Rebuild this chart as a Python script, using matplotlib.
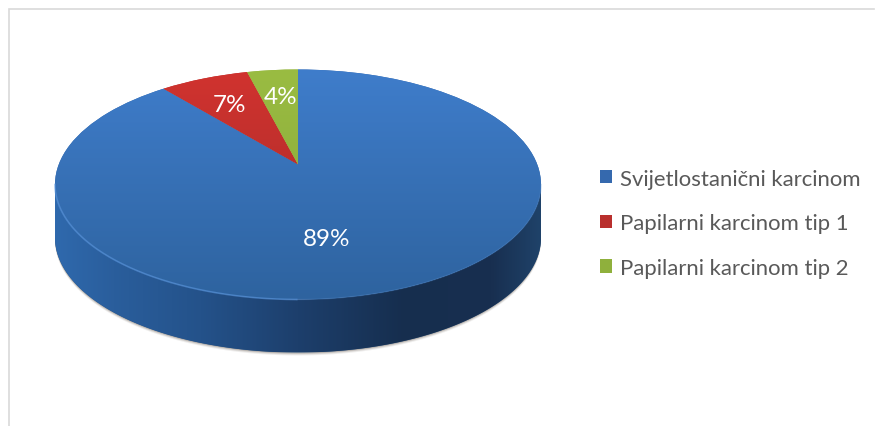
import numpy as np
import matplotlib
matplotlib.use("Agg")
import matplotlib.pyplot as plt
from matplotlib.transforms import Transform
from matplotlib.colors import LinearSegmentedColormap

categories = ["Svijetlostanični karcinom", "Papilarni karcinom tip 1", "Papilarni karcinom tip 2"]
values = [89, 7, 4]
pct_labels = ["89%", "7%", "4%"]

base_colors = ["#3569AE", "#B92F2D", "#8FB03C"]
top_gradients = [("#3F7DCB", "#2E639F"), ("#D1332F", "#A32A29"), ("#9ABC42", "#86A638")]
label_xy = [(327, 240), (229, 105), (281, 97)]

W, H = 875, 427
CX, CY, RX, RY = 298, 185.5, 243, 115   # outline of the top face, pixels
APEX_SHIFT = 20                         # perspective: pie centre sits above ellipse centre
DEPTH = 53
K = 2 * APEX_SHIFT / (2 * RY)
A = RX * np.sqrt(1 - K ** 2)


class Perspective(Transform):
    """Unit-circle pie -> tilted disc seen in perspective (pixel coordinates)."""
    input_dims = output_dims = 2
    has_inverse = False

    def transform_non_affine(self, xy):
        xy = np.asarray(xy, float)
        d = 1 + K * xy[:, 1]
        return np.column_stack([CX + A * xy[:, 0] / d,
                                CY - (RY * xy[:, 1] + APEX_SHIFT) / d])


fig = plt.figure(figsize=(W / 100, H / 100), dpi=100, facecolor="white")
ax = fig.add_axes([0, 0, 1, 1])

wedges, _ = ax.pie(values, startangle=90, counterclock=False, colors=base_colors,
                   radius=1, center=(0, 0))
ax.set_aspect("auto")
ax.set_xlim(0, W)
ax.set_ylim(H, 0)
ax.axis("off")

persp = Perspective()
for w in wedges:
    w.set_transform(persp + ax.transData)
    w.set_linewidth(0)
    w.set_zorder(5)
    w.set_clip_on(True)

# chart frame
frame_c = "#D9D9D9"
ax.plot([9, 9, 874], [H, 10, 10], color=frame_c, lw=1.2, zorder=1, solid_joinstyle="miter")

# side wall
t = np.radians(np.linspace(180, 360, 300))
ex = CX + RX * np.cos(t)
ey = CY - RY * np.sin(t)

# soft shadow under the wall
for off, alpha in [(3.0, .10), (2.0, .18), (1.0, .30)]:
    ax.fill(np.r_[ex, ex[::-1]], np.r_[ey, ey[::-1] + DEPTH + off],
            color="#6b6258", alpha=alpha, lw=0, zorder=2)

wall = ax.fill(np.r_[ex, ex[::-1]], np.r_[ey, ey[::-1] + DEPTH], color="#24507f", lw=0, zorder=3)[0]
wall_cmap = LinearSegmentedColormap.from_list("wall", [
    (0.00, "#2F69AD"), (0.12, "#2A5E9C"), (0.30, "#24528A"), (0.50, "#1D3F6C"),
    (0.72, "#162E4E"), (0.90, "#182F50"), (1.00, "#1F4269")])
grad = np.linspace(0, 1, 256).reshape(1, -1)
im = ax.imshow(grad, cmap=wall_cmap, extent=(CX - RX, CX + RX, CY + RY + DEPTH, CY),
               aspect="auto", zorder=4, interpolation="bilinear")
im.set_clip_path(wall)

# top-face gradients
for w, (c0, c1) in zip(wedges, top_gradients):
    cmap = LinearSegmentedColormap.from_list("f", [c0, c1])
    g = np.linspace(0, 1, 256).reshape(-1, 1)
    im2 = ax.imshow(g, cmap=cmap, extent=(CX - RX, CX + RX, CY + RY, CY - RY),
                    aspect="auto", zorder=6, interpolation="bilinear")
    im2.set_clip_path(w)

# bevel highlight on the front rim: bright at the left, fading toward the right
mid = len(ex) // 2
ax.plot(ex[:mid], ey[:mid], color="#5A96DE", lw=1.2, alpha=.6, zorder=7)
ax.plot(ex[mid - 1:], ey[mid - 1:], color="#4F86C6", lw=1.0, alpha=.3, zorder=7)

ax.set_xlim(0, W)
ax.set_ylim(H, 0)

for lab, (x, y) in zip(pct_labels, label_xy):
    ax.text(x, y, lab, color="white", fontsize=17.5, family="Lato",
            ha="center", va="center", zorder=10)

leg = ax.legend(wedges, categories, loc="upper left", bbox_to_anchor=(600 / W, 1 - 169.5 / H),
                bbox_transform=fig.transFigure, frameon=False, ncol=1,
                prop={"family": "Lato", "size": 15.9}, labelcolor="#595959",
                handlelength=0.56, handleheight=0.56, handletextpad=0.36,
                labelspacing=1.12, borderaxespad=0, borderpad=0)

fig.savefig("out.png", dpi=100, facecolor="white")
